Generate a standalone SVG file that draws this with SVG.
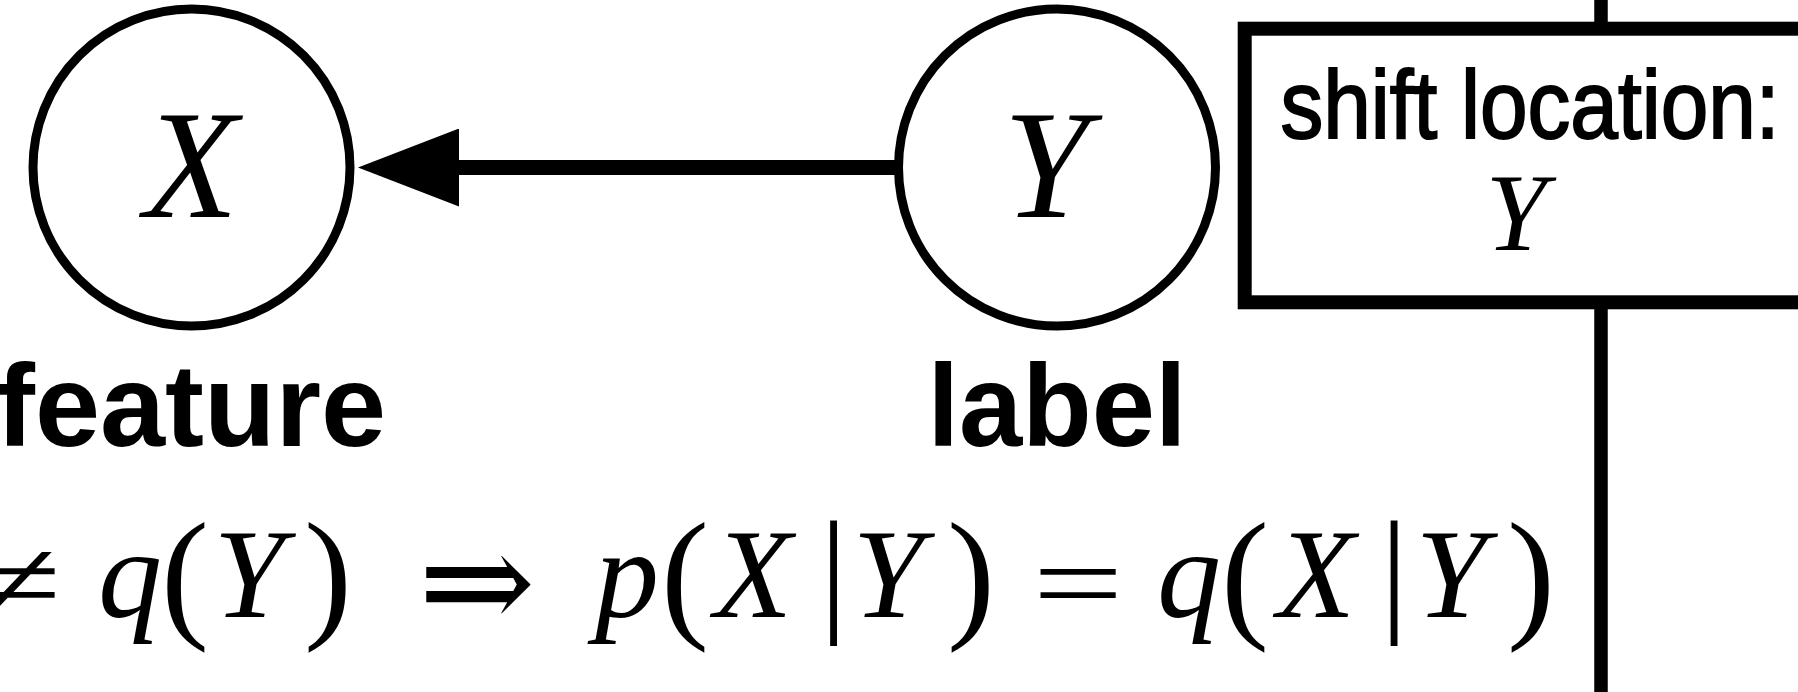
<svg xmlns="http://www.w3.org/2000/svg" width="1798" height="692" viewBox="0 0 1798 692">
<style>
.node{fill:#fff;stroke:#000;stroke-width:9}
.mi{font-family:"Liberation Serif","DejaVu Serif",serif;font-style:italic;fill:#000}
.rm{font-family:"Liberation Serif","DejaVu Serif",serif;font-style:normal;fill:#000}
.arr{font-family:"DejaVu Serif",serif;font-style:normal;fill:#000}
.bold{font-family:"Liberation Sans",Arial,sans-serif;font-weight:bold;fill:#000}
.sans{font-family:"Liberation Sans",Arial,sans-serif;fill:#000;stroke:#000;stroke-width:2}
.conn{stroke:#000;fill:none}
</style>
<defs>
<marker id="ah" markerUnits="userSpaceOnUse" markerWidth="102" markerHeight="78" viewBox="0 0 102 78" refX="0" refY="39" orient="auto">
<path d="M0,0 L101,39 L0,78 z" fill="#000"/>
</marker>
</defs>
<rect width="1798" height="692" fill="#fff"/>
<g id="connectors">
<line class="conn" stroke-width="13.5" x1="1601" y1="0" x2="1601" y2="692"/>
<line class="conn" stroke-width="15" x1="898" y1="167.5" x2="459" y2="167.5" marker-end="url(#ah)"/>
</g>
<g id="node-X">
<circle class="node" cx="191.5" cy="167.5" r="158.5"/>
<text class="mi" x="191" y="217" font-size="154" text-anchor="middle">X</text>
<text class="bold" x="191" y="446" font-size="117" text-anchor="middle">feature</text>
</g>
<g id="node-Y">
<circle class="node" cx="1057" cy="167.5" r="158.5"/>
<text class="mi" x="1046" y="217" font-size="154" text-anchor="middle">Y</text>
<text class="bold" x="1057" y="446" font-size="117" text-anchor="middle" textLength="259" lengthAdjust="spacingAndGlyphs">label</text>
</g>
<g id="node-shift">
<rect x="1244.7" y="28.7" width="600" height="273.6" fill="#fff" stroke="#000" stroke-width="14"/>
<text class="sans" x="1530" y="138" font-size="97" text-anchor="middle" textLength="499" lengthAdjust="spacingAndGlyphs">shift location:</text>
<text class="mi" x="1516" y="250" font-size="110" text-anchor="middle">Y</text>
</g>
<g id="equation">
<text class="rm" font-size="117" text-anchor="middle" transform="translate(17,622) scale(1.38,1)">≠</text>
<text class="rm" font-size="117" text-anchor="middle" transform="translate(1078,622) scale(1.38,1)">=</text>
<text class="mi" font-size="128" text-anchor="middle" y="617"><tspan x="130">q</tspan><tspan x="249">Y</tspan><tspan x="627">p</tspan><tspan x="753">X</tspan><tspan x="888">Y</tspan><tspan x="1189">q</tspan><tspan x="1316">X</tspan><tspan x="1451">Y</tspan></text>
<text class="rm" font-size="144" text-anchor="middle" y="621.5"><tspan x="185">(</tspan><tspan x="328">)</tspan><tspan x="685">(</tspan><tspan x="971">)</tspan><tspan x="1245">(</tspan><tspan x="1531">)</tspan></text>
<text class="rm" font-size="138" text-anchor="middle" y="617"><tspan x="833.5">|</tspan><tspan x="1394">|</tspan></text>
<text class="arr" font-size="140" text-anchor="middle" y="630"><tspan x="477">⇒</tspan></text>
</g>
</svg>
